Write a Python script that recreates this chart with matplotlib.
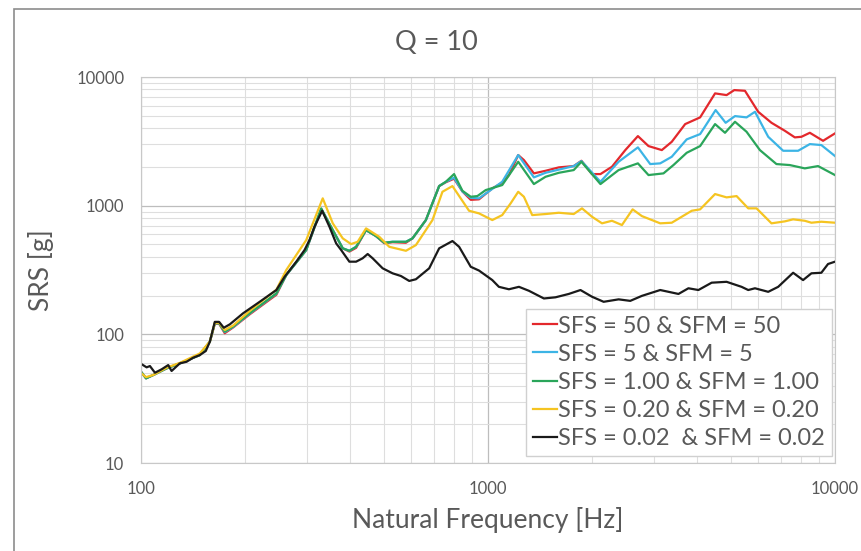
import matplotlib
matplotlib.use("Agg")
import matplotlib.pyplot as plt
from matplotlib.ticker import LogLocator, NullFormatter, FixedLocator, FixedFormatter
from matplotlib.patches import Rectangle

plt.rcParams['font.family'] = ['Lato', 'DejaVu Sans']

# datos (Hz, g)
f_rojo = [100, 103.4, 108.5, 118.5, 129.4, 147.7, 157.9, 163.2, 167.9, 174.3, 184.2, 205.7,
          245.5, 262.2, 299.3, 330.6, 356.9, 381.4, 398.6, 416.7, 445.2, 475.6, 502.5, 530.9,
          580.1, 606, 662.2, 723.2, 755.8, 798.4, 843.9, 891.8, 942, 1029, 1099, 1149, 1222,
          1269, 1356, 1465, 1600, 1766, 1859, 1994, 2109, 2276, 2487, 2704, 2901, 3169, 3385,
          3700, 4086, 4512, 4870, 5126, 5502, 6007, 6561, 7169, 7660, 8003, 8462, 9238, 10000]
v_rojo = [51.2, 45.5, 48.3, 54.4, 59.5, 69, 87.6, 121, 121, 102, 113, 143,
          203, 289, 452, 940, 646, 466, 440, 470, 646, 580, 510, 520,
          515, 557, 773, 1420, 1520, 1620, 1290, 1110, 1120, 1363, 1507, 1729, 2474,
          2262, 1782, 1867, 1984, 2031, 2233, 1760, 1760, 2006, 2704, 3473, 2905, 2704, 3136,
          4305, 4854, 7458, 7234, 7912, 7813, 5366, 4407, 3819, 3394, 3430, 3685, 3193, 3646]

f_azul = [100, 103.4, 108.5, 118.5, 129.4, 147.7, 157.9, 163.2, 167.9, 174.3, 184.2, 205.7,
          245.5, 262.2, 299.3, 330.6, 356.9, 381.4, 398.6, 416.7, 445.2, 475.6, 502.5, 530.9,
          580.1, 606, 662.2, 723.2, 755.8, 798.4, 843.9, 891.8, 942, 1029, 1099, 1222, 1356,
          1465, 1766, 1859, 2109, 2379, 2704, 2934, 3135, 3385, 3738, 4086, 4529, 4840, 5150,
          5561, 5880, 6420, 7089, 7829, 8462, 9134, 10000]
v_azul = [51.2, 45.5, 48.3, 54.4, 59.5, 69, 87.6, 122, 122, 104, 114, 145,
          207, 289, 452, 945, 646, 466, 446, 479, 646, 580, 515, 524,
          524, 557, 773, 1420, 1530, 1650, 1290, 1150, 1140, 1350, 1534, 2474, 1659,
          1801, 2031, 2221, 1534, 2194, 2838, 2105, 2132, 2399, 3275, 3600, 5533, 4407, 4968,
          4854, 5366, 3430, 2671, 2671, 3010, 2958, 2430]

f_verde = [100, 103.4, 108.5, 118.5, 129.4, 147.7, 157.9, 163.2, 167.9, 174.3, 184.2, 205.7,
           245.5, 262.2, 299.3, 330.6, 356.9, 381.4, 398.6, 416.7, 445.2, 475.6, 502.5, 530.9,
           580.1, 606, 662.2, 723.2, 755.8, 798.4, 843.9, 891.8, 931.8, 984.9, 1099, 1222, 1356,
           1465, 1600, 1766, 1859, 2109, 2379, 2704, 2901, 3204, 3423, 3738, 4086, 4512, 4820,
           5150, 5561, 6075, 6781, 7410, 8184, 8936, 10000]
v_verde = [51.2, 45.5, 48.3, 54.4, 59.5, 69, 87.6, 122, 122, 105, 115, 146,
           208, 289, 452, 953, 646, 466, 446, 479, 646, 580, 515, 524,
           524, 557, 773, 1420, 1534, 1760, 1305, 1173, 1187, 1322, 1446, 2194, 1472,
           1677, 1801, 1891, 2194, 1472, 1891, 2132, 1729, 1782, 2068, 2576, 2905, 4305, 3685,
           4487, 3752, 2704, 2105, 2068, 1949, 2031, 1729]

f_amarillo = [100, 103.4, 108.5, 118.5, 129.4, 147.7, 157.9, 163.2, 167.9, 174.3, 184.2, 205.7,
              245.5, 262.2, 299.3, 334, 357, 381.4, 403.1, 421.1, 445.2, 486.1, 519.4, 580.1,
              619.8, 691.8, 739.1, 789.8, 881.8, 942.2, 1029, 1099, 1162, 1222, 1269, 1341,
              1465, 1600, 1766, 1866, 1994, 2131, 2276, 2432, 2611, 2776, 3135, 3385, 3865,
              4086, 4512, 4870, 5205, 5623, 5941, 6561, 7169, 7574, 8184, 8551, 9134, 10000]
v_amarillo = [50, 46.5, 48.3, 55, 60, 71, 88, 123, 123, 108, 117, 152,
              222, 316, 540, 1140, 729, 557, 503, 524, 666, 573, 479, 446,
              494, 773, 1282, 1420, 913, 871, 773, 845, 1042, 1282, 1173, 845,
              861, 881, 861, 953, 820, 729, 763, 707, 936, 830, 729, 737, 913,
              936, 1231, 1160, 1187, 953, 953, 729, 755, 783, 763, 737, 750, 737]

f_negro = [100, 103.8, 106.1, 109.7, 114.7, 119.8, 122.5, 129.4, 135.3, 141.3, 147.7, 153.7,
           157.9, 163.2, 167.9, 173.2, 180.3, 196.8, 219.8, 245.5, 259.3, 280.2, 296, 305.9,
           316.2, 332.7, 349.2, 365.1, 377.4, 398.6, 416.7, 435.3, 450, 465.1, 497, 530.9,
           561.2, 592.9, 619.8, 676.9, 723.2, 789.8, 825.6, 891.8, 942.2, 1029, 1075, 1149,
           1228, 1312, 1449, 1565, 1709, 1847, 1994, 2154, 2379, 2570, 2776, 3135, 3539,
           3781, 4040, 4411, 4870, 5379, 5623, 5880, 6420, 6859, 7574, 8091, 8551, 9134,
           9548, 10000]
v_negro = [59, 55.4, 56.7, 50.3, 53.5, 57.7, 51.9, 59.5, 61.2, 65.8, 69, 74.2,
           87.6, 125, 125, 112.5, 119.6, 145.6, 179, 221, 280, 367, 452, 540,
           686, 913, 686, 509, 452, 367, 367, 390, 421, 390, 326, 298,
           284, 260, 268, 326, 466, 531, 479, 335, 313, 264, 234, 224,
           234, 218, 190, 194, 206, 221, 196, 179, 187, 182, 199, 221, 206,
           228, 221, 252, 256, 234, 221, 228, 214, 234, 301, 264, 298, 301,
           352, 367]

etiquetas = ["SFS = 50 & SFM = 50", "SFS = 5 & SFM = 5", "SFS = 1.00 & SFM = 1.00",
             "SFS = 0.20 & SFM = 0.20", "SFS = 0.02  & SFM = 0.02"]
colores = ["#e3282c", "#3cb4e5", "#2aa55a", "#f5c421", "#1a1a1a"]

x_ticks = [100, 1000, 10000]
y_ticks = [10, 100, 1000, 10000]

fig = plt.figure(figsize=(8.62, 5.51), dpi=100)
ax = fig.add_axes([141/862, 88/551, 694/862, 386/551])

# marco exterior del grafico
fig.patches.append(Rectangle((14/862, -0.1), 1.2, 1.1 - 9/551,
                             transform=fig.transFigure, fill=False,
                             edgecolor="#8c8c8c", linewidth=1.2))

series = [(f_rojo, v_rojo), (f_azul, v_azul), (f_verde, v_verde),
          (f_amarillo, v_amarillo), (f_negro, v_negro)]
for (f, v), c, lab in zip(series, colores, etiquetas):
    ax.plot(f, v, color=c, linewidth=1.6, label=lab, solid_joinstyle='round')

ax.set_xscale('log')
ax.set_yscale('log')
ax.set_xlim(100, 10000)
ax.set_ylim(10, 10000)

ax.xaxis.set_major_locator(FixedLocator(x_ticks))
ax.xaxis.set_major_formatter(FixedFormatter([str(t) for t in x_ticks]))
ax.yaxis.set_major_locator(FixedLocator(y_ticks))
ax.yaxis.set_major_formatter(FixedFormatter([str(t) for t in y_ticks]))
ax.xaxis.set_minor_locator(LogLocator(base=10, subs=range(2, 10)))
ax.yaxis.set_minor_locator(LogLocator(base=10, subs=range(2, 10)))
ax.xaxis.set_minor_formatter(NullFormatter())
ax.yaxis.set_minor_formatter(NullFormatter())

ax.grid(True, which='major', color="#bdbdbd", linewidth=0.9)
ax.grid(True, which='minor', color="#dedede", linewidth=0.8)
ax.set_axisbelow(True)
ax.tick_params(which='both', length=0, labelsize=12, labelcolor="#595959")
ax.tick_params(axis='x', pad=13)
ax.tick_params(axis='y', pad=12)
for s in ax.spines.values():
    s.set_color("#c8c8c8")

ax.set_xlabel("Natural Frequency [Hz]", fontsize=19, color="#595959", labelpad=7)
ax.set_ylabel("SRS [g]", fontsize=19, color="#595959", labelpad=16)
fig.text(436/862, 1 - 43/551, "Q = 10", fontsize=19.5, color="#595959",
         ha='center', va='center')

leg = ax.legend(loc='lower right', bbox_to_anchor=(0.995, 0.018), fontsize=17,
                handlelength=1.0, handletextpad=0.05, labelspacing=0.3,
                borderpad=0.3, borderaxespad=0.0, fancybox=False, framealpha=1,
                edgecolor="#d0d0d0")
for t in leg.get_texts():
    t.set_color("#595959")

fig.savefig("out.png", dpi=100)
